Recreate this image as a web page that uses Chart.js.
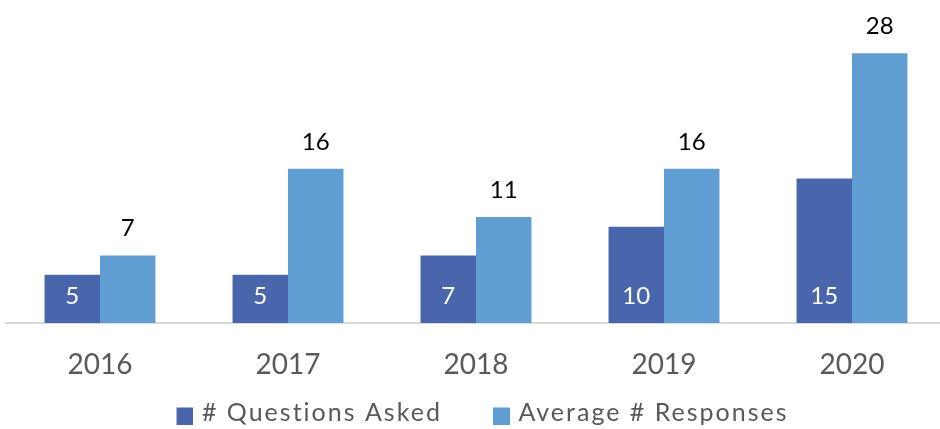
<!DOCTYPE html>
<html>
<head>
<meta charset="utf-8">
<script src="https://cdn.jsdelivr.net/npm/chart.js@4"></script>
<style>
html,body{margin:0;padding:0;background:#fff;overflow:hidden;width:940px;height:429px;}
#wrap{position:absolute;left:0;top:0;width:946px;height:429px;}
</style>
</head>
<body>
<div id="wrap"><canvas id="c" width="946" height="429"></canvas></div>
<script>
const categories = ["2016", "2017", "2018", "2019", "2020"];
const questionsAsked = [5, 5, 7, 10, 15];
const avgResponses = [7, 16, 11, 16, 28];
const seriesNames = ["# Questions Asked", "Average # Responses"];
const seriesColors = ["#4966AD", "#5F9DD3"];

const FONT = "Lato, 'Open Sans', sans-serif";
const LEGEND_SPACING = '2px';
const MARKER_BOX_W = 26;

function makeMarker(color) {
  const cv = document.createElement('canvas');
  cv.width = 34; cv.height = 24;
  const c = cv.getContext('2d');
  c.fillStyle = color;
  c.fillRect(17, 7, 17, 17);
  return cv;
}
const markers = seriesColors.map(makeMarker);

const spacingPlugin = {
  id: 'legendSpacing',
  beforeLayout(chart) { chart.ctx.letterSpacing = LEGEND_SPACING; },
  afterLayout(chart) {
    chart.ctx.letterSpacing = '0px';
    // let the tick labels overflow below the reduced axis box
    chart.scales.x.bottom = chart.height;
  },
  beforeDraw(chart) { chart.ctx.letterSpacing = LEGEND_SPACING; },
  beforeDatasetsDraw(chart) { chart.ctx.letterSpacing = '0px'; }
};

const labelPlugin = {
  id: 'barLabels',
  afterDatasetsDraw(chart) {
    const ctx = chart.ctx;
    const yScale = chart.scales.y;
    ctx.save();
    ctx.letterSpacing = '0px';
    ctx.font = "24px " + FONT;
    ctx.textAlign = 'center';
    ctx.textBaseline = 'middle';
    chart.data.datasets.forEach((ds, di) => {
      const meta = chart.getDatasetMeta(di);
      meta.data.forEach((bar, i) => {
        const v = ds.data[i];
        if (di === 0) {
          ctx.fillStyle = '#ffffff';
          ctx.fillText(String(v), bar.x, yScale.getPixelForValue(0) - 27);
        } else {
          ctx.fillStyle = '#000000';
          ctx.fillText(String(v), bar.x, bar.y - 27);
        }
      });
    });
    ctx.restore();
  }
};

new Chart(document.getElementById('c'), {
  type: 'bar',
  data: {
    labels: categories,
    datasets: [
      { label: seriesNames[0], data: questionsAsked, backgroundColor: seriesColors[0], categoryPercentage: 0.59, barPercentage: 1.0 },
      { label: seriesNames[1], data: avgResponses, backgroundColor: seriesColors[1], categoryPercentage: 0.59, barPercentage: 1.0 }
    ]
  },
  options: {
    responsive: false,
    animation: false,
    layout: { padding: { left: 6, right: 0, top: 34, bottom: 0 } },
    scales: {
      x: {
        grid: { display: false, drawTicks: false },
        border: { display: true, color: '#D9D9D9', width: 2 },
        ticks: { color: '#595959', font: { family: FONT, size: 28 }, padding: 25, z: 1 },
        afterFit(scale) { scale.height = 39; }
      },
      y: {
        display: false,
        min: 0,
        max: 30
      }
    },
    plugins: {
      legend: {
        position: 'bottom',
        maxHeight: 67,
        labels: {
          color: '#595959',
          font: { family: FONT, size: 25 },
          usePointStyle: true,
          pointStyleWidth: MARKER_BOX_W,
          boxHeight: 14,
          padding: 38,
          generateLabels(chart) {
            return chart.data.datasets.map((ds, i) => ({
              text: ds.label,
              fillStyle: seriesColors[i],
              strokeStyle: seriesColors[i],
              lineWidth: 0,
              pointStyle: markers[i],
              hidden: !chart.isDatasetVisible(i),
              datasetIndex: i,
              fontColor: '#595959'
            }));
          }
        }
      },
      tooltip: { enabled: false }
    }
  },
  plugins: [spacingPlugin, labelPlugin]
});
</script>
</body>
</html>
